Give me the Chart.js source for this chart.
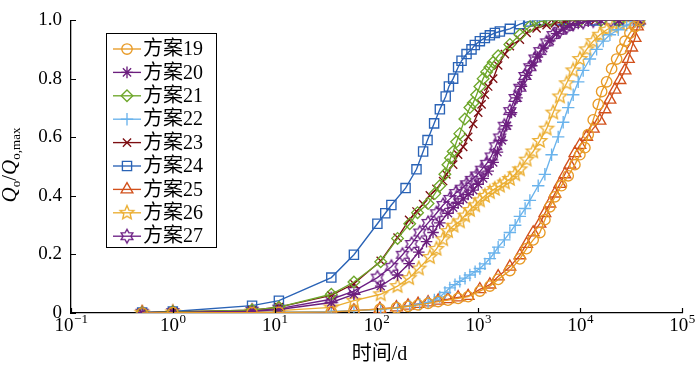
<!DOCTYPE html>
<html>
<head>
<meta charset="utf-8">
<script src="https://cdn.jsdelivr.net/npm/chart.js@4.4.0/dist/chart.umd.min.js"></script>
<style>
  html, body { margin: 0; padding: 0; background: #fff; }
  #wrap { width: 700px; height: 373px; }
</style>
</head>
<body>
<div id="wrap"><canvas id="chart" width="700" height="373"></canvas></div>
<script>
// --- Data (time in days, Qo/Qo,max) ---
const labels = ['方案19', '方案20', '方案21', '方案22', '方案23', '方案24', '方案25', '方案26', '方案27'];
const xPowers = [-1, 0, 1, 2, 3, 4, 5];
const yTicks = [0, 0.2, 0.4, 0.6, 0.8, 1.0];

const t19 = [0.5, 1, 6, 11, 36, 60, 108, 157, 204, 256, 321, 403, 503, 633, 794, 1035, 1298, 1566, 2040, 2558, 2978, 3456, 4020, 4503, 5040, 5645, 6550, 7630, 8877, 9935, 11129, 12000, 13430, 15050, 16250, 18200, 20370, 22810, 25540, 27550, 30810, 34570, 38000];
const v19 = [0, 0.001, 0.001, 0.002, 0.004, 0.008, 0.013, 0.018, 0.023, 0.028, 0.033, 0.039, 0.044, 0.05, 0.056, 0.075, 0.092, 0.115, 0.145, 0.185, 0.22, 0.25, 0.275, 0.319, 0.363, 0.397, 0.435, 0.469, 0.507, 0.541, 0.565, 0.61, 0.66, 0.713, 0.757, 0.79, 0.835, 0.868, 0.901, 0.929, 0.957, 0.979, 1.0];

const t20 = [0.5, 1, 6, 11, 36, 60, 110, 161, 209, 260, 310, 359, 418, 503, 566, 633, 710, 794, 890, 997, 1115, 1249, 1398, 1540, 1700, 1900, 2120, 2400, 2650, 2978, 3350, 3800, 4332, 5040, 5868, 6811, 7925, 9570, 12000, 16000, 24000, 38000];
const v20 = [0.001, 0.002, 0.006, 0.012, 0.036, 0.064, 0.092, 0.13, 0.169, 0.208, 0.244, 0.275, 0.308, 0.341, 0.36, 0.375, 0.39, 0.405, 0.42, 0.44, 0.46, 0.485, 0.515, 0.55, 0.59, 0.64, 0.685, 0.735, 0.775, 0.812, 0.845, 0.875, 0.905, 0.93, 0.955, 0.97, 0.982, 0.99, 0.997, 1, 1, 1];

const t21 = [0.5, 1, 6, 11, 36, 60, 110, 161, 212, 253, 321, 374, 418, 469, 503, 533, 566, 611, 658, 737, 826, 890, 961, 1035, 1115, 1205, 1298, 1398, 1566, 2040, 2558, 3207, 4020, 5040, 7000, 10000, 16000, 24000, 38000];
const v21 = [0.001, 0.004, 0.01, 0.02, 0.064, 0.106, 0.175, 0.255, 0.305, 0.343, 0.374, 0.408, 0.435, 0.474, 0.507, 0.53, 0.552, 0.585, 0.613, 0.663, 0.702, 0.718, 0.746, 0.774, 0.801, 0.824, 0.84, 0.857, 0.879, 0.918, 0.951, 0.979, 0.996, 1, 1, 1, 1, 1, 1];

const t22 = [0.5, 1, 6, 11, 36, 60, 110, 161, 212, 266, 321, 370, 418, 470, 525, 590, 658, 740, 826, 930, 1035, 1160, 1298, 1430, 1566, 1800, 2040, 2300, 2558, 2880, 3207, 3872, 4503, 5240, 6085, 6811, 7630, 8540, 9570, 10706, 12460, 14510, 16840, 19590, 23650, 28650, 34570, 38000];
const v22 = [0, 0.001, 0.002, 0.003, 0.005, 0.008, 0.012, 0.018, 0.024, 0.03, 0.036, 0.045, 0.055, 0.07, 0.086, 0.097, 0.108, 0.119, 0.13, 0.141, 0.152, 0.168, 0.186, 0.205, 0.225, 0.25, 0.275, 0.3, 0.33, 0.357, 0.385, 0.435, 0.474, 0.541, 0.602, 0.652, 0.702, 0.746, 0.79, 0.829, 0.868, 0.901, 0.929, 0.951, 0.968, 0.984, 0.996, 1];

const t23 = [0.5, 1, 6, 11, 36, 60, 110, 161, 209, 247, 287, 334, 388, 451, 485, 566, 633, 710, 794, 890, 997, 1076, 1159, 1249, 1398, 1566, 1822, 2040, 2558, 2978, 3734, 4680, 5645, 7000, 9000, 14000, 24000, 38000];
const v23 = [0.001, 0.004, 0.01, 0.02, 0.06, 0.1, 0.178, 0.258, 0.318, 0.347, 0.372, 0.402, 0.424, 0.451, 0.474, 0.507, 0.541, 0.568, 0.602, 0.646, 0.685, 0.713, 0.746, 0.774, 0.801, 0.846, 0.885, 0.912, 0.934, 0.957, 0.973, 0.984, 0.99, 0.996, 1, 1, 1, 1];

const t24 = [0.5, 1, 6, 11, 36, 60, 102, 122, 140, 193, 247, 287, 317, 368, 419, 478, 514, 566, 633, 684, 766, 857, 924, 1035, 1159, 1298, 1453, 1627, 2040, 2558, 3088, 3592, 4200, 4850, 6324, 8490, 14000, 24000, 38000];
const v24 = [0.002, 0.005, 0.025, 0.042, 0.121, 0.199, 0.305, 0.341, 0.369, 0.427, 0.491, 0.552, 0.591, 0.648, 0.696, 0.74, 0.774, 0.801, 0.84, 0.862, 0.885, 0.901, 0.916, 0.929, 0.94, 0.949, 0.957, 0.962, 0.971, 0.987, 0.996, 1, 1, 1, 1, 1, 1, 1, 1];

const t25 = [0.5, 1, 6, 11, 36, 60, 108, 157, 204, 256, 321, 403, 503, 633, 794, 1035, 1298, 1566, 2040, 2558, 2978, 3456, 4020, 4503, 5040, 5645, 6320, 7080, 7925, 8877, 9935, 11568, 13430, 15630, 17510, 19590, 21940, 24570, 27550, 29710, 32030, 34570, 36500, 38000];
const v25 = [0, 0, 0.001, 0.002, 0.003, 0.008, 0.014, 0.019, 0.025, 0.031, 0.036, 0.042, 0.047, 0.053, 0.058, 0.081, 0.097, 0.125, 0.158, 0.197, 0.236, 0.275, 0.305, 0.341, 0.374, 0.408, 0.441, 0.474, 0.507, 0.546, 0.574, 0.602, 0.63, 0.657, 0.696, 0.729, 0.763, 0.796, 0.829, 0.868, 0.907, 0.94, 0.979, 1];

const t26 = [0.5, 1, 6, 11, 36, 60, 110, 161, 209, 260, 334, 388, 451, 503, 570, 658, 740, 826, 930, 1035, 1160, 1298, 1450, 1627, 1820, 2040, 2300, 2558, 2978, 3456, 4020, 4680, 5431, 6320, 7358, 8540, 9935, 11568, 13430, 15630, 18200, 21110, 24570, 28650, 38000];
const v26 = [0.001, 0.002, 0.005, 0.008, 0.019, 0.042, 0.064, 0.092, 0.119, 0.152, 0.191, 0.219, 0.252, 0.28, 0.298, 0.313, 0.333, 0.352, 0.368, 0.385, 0.4, 0.413, 0.424, 0.435, 0.446, 0.458, 0.474, 0.491, 0.524, 0.552, 0.588, 0.63, 0.685, 0.74, 0.785, 0.829, 0.868, 0.901, 0.929, 0.951, 0.968, 0.979, 0.99, 0.996, 1];

const t27 = [0.5, 1, 6, 11, 36, 60, 102, 140, 180, 221, 266, 321, 388, 451, 525, 600, 684, 766, 857, 961, 1076, 1205, 1340, 1480, 1620, 1800, 2040, 2300, 2558, 2865, 3207, 3592, 4020, 4680, 5431, 6320, 7358, 8540, 10700, 13430, 20000, 38000];
const v27 = [0.001, 0.003, 0.008, 0.015, 0.047, 0.075, 0.121, 0.158, 0.199, 0.236, 0.275, 0.308, 0.341, 0.369, 0.39, 0.41, 0.425, 0.44, 0.455, 0.47, 0.49, 0.51, 0.535, 0.57, 0.6, 0.64, 0.69, 0.735, 0.77, 0.81, 0.84, 0.87, 0.895, 0.925, 0.95, 0.965, 0.978, 0.988, 0.995, 1, 1, 1];

// --- Styles ---
const SERIF = '"Liberation Serif", "Times New Roman", "Noto Sans CJK SC", serif';
const LW = 1.35;

function pts(ts, vs) {
    return ts.map((t, i) => ({ x: t, y: vs[i] }));
}

// outline star marker drawn into a small canvas (used for 5- and 6-pointed stars)
function makeStarImage(color, n, outerR, innerR) {
    const size = 18;
    const c = document.createElement('canvas');
    c.width = size; c.height = size;
    const g = c.getContext('2d');
    g.strokeStyle = color;
    g.lineWidth = LW;
    g.lineJoin = 'miter';
    g.beginPath();
    for (let i = 0; i < n * 2; i++) {
        const r = i % 2 === 0 ? outerR : innerR;
        const a = -Math.PI / 2 + i * Math.PI / n;
        const x = size / 2 + r * Math.cos(a);
        const y = size / 2 + r * Math.sin(a);
        if (i === 0) g.moveTo(x, y); else g.lineTo(x, y);
    }
    g.closePath();
    g.stroke();
    return c;
}

const colors = ['#E89A25', '#6C1F7E', '#6EA72B', '#6AB3EC', '#7D0E12', '#2A63B6', '#D2501B', '#EBAE32', '#6D2085'];
const styles = [
    { s: 'circle', r: 5.2 },
    { s: 'star', r: 5.8 },
    { s: 'rectRot', r: 5.8 },
    { s: 'cross', r: 6.2 },
    { s: 'crossRot', r: 5.8 },
    { s: 'rect', r: 6.5 },
    { s: 'triangle', r: 6.8 },
    { s: makeStarImage(colors[7], 5, 7.3, 3.3), r: 6 },
    { s: makeStarImage(colors[8], 6, 6.8, 3.9), r: 6 }
];
const series = [[t19, v19], [t20, v20], [t21, v21], [t22, v22], [t23, v23], [t24, v24], [t25, v25], [t26, v26], [t27, v27]];

const datasets = series.map((sv, i) => ({
    label: labels[i],
    data: pts(sv[0], sv[1]),
    borderColor: colors[i],
    backgroundColor: 'rgba(0,0,0,0)',
    borderWidth: LW,
    pointStyle: styles[i].s,
    pointRadius: styles[i].r,
    pointBorderColor: colors[i],
    pointBackgroundColor: 'rgba(0,0,0,0)',
    pointBorderWidth: LW,
    tension: 0,
    fill: false
}));

// --- Axes decoration, titles and legend ---
const decorPlugin = {
    id: 'decor',
    afterDraw(chart) {
        const ctx = chart.ctx;
        const xs = chart.scales.x;
        const ys = chart.scales.y;
        const area = chart.chartArea;
        ctx.save();

        // inward tick marks
        ctx.strokeStyle = '#000';
        ctx.lineWidth = 1.2;
        ctx.beginPath();
        xPowers.forEach(p => {
            const px = Math.round(xs.getPixelForValue(Math.pow(10, p))) + 0.5;
            ctx.moveTo(px, area.bottom);
            ctx.lineTo(px, area.bottom - 5);
        });
        yTicks.forEach(v => {
            const py = Math.round(ys.getPixelForValue(v)) + 0.5;
            ctx.moveTo(area.left, py);
            ctx.lineTo(area.left + 5, py);
        });
        ctx.stroke();

        // x tick labels: 10 with superscript exponent
        ctx.fillStyle = '#000';
        ctx.textBaseline = 'alphabetic';
        ctx.textAlign = 'left';
        xPowers.forEach(p => {
            const px = xs.getPixelForValue(Math.pow(10, p));
            const base = '10';
            const exp = p < 0 ? '\u2212' + Math.abs(p) : String(p);
            ctx.font = '19px ' + SERIF;
            const wb = ctx.measureText(base).width;
            ctx.font = '13px ' + SERIF;
            const we = ctx.measureText(exp).width;
            const x0 = px - (wb + we) / 2;
            ctx.font = '19px ' + SERIF;
            ctx.fillText(base, x0, 331);
            ctx.font = '13px ' + SERIF;
            ctx.fillText(exp, x0 + wb + 0.5, 323);
        });

        // x title
        ctx.font = '20px ' + SERIF;
        ctx.textAlign = 'center';
        ctx.textBaseline = 'middle';
        ctx.fillText('时间/d', (area.left + area.right) / 2 + 3, 355);

        // y title: Qo/Qo,max rotated
        const parts = [
            { t: 'Q', f: 'italic 21px ' + SERIF, dy: 0 },
            { t: 'o', f: '13px ' + SERIF, dy: 4 },
            { t: '/', f: '21px ' + SERIF, dy: 0 },
            { t: 'Q', f: 'italic 21px ' + SERIF, dy: 0 },
            { t: 'o,max', f: '13px ' + SERIF, dy: 4 }
        ];
        let total = 0;
        parts.forEach(pt => { ctx.font = pt.f; pt.w = ctx.measureText(pt.t).width; total += pt.w; });
        ctx.save();
        ctx.translate(16, 165);
        ctx.rotate(-Math.PI / 2);
        ctx.textAlign = 'left';
        ctx.textBaseline = 'alphabetic';
        let cx = -total / 2;
        parts.forEach(pt => {
            ctx.font = pt.f;
            ctx.fillText(pt.t, cx, pt.dy);
            cx += pt.w;
        });
        ctx.restore();

        // legend box
        const lx = 106.5, ly = 33.5, lw = 110, lh = 214;
        ctx.fillStyle = '#fff';
        ctx.fillRect(lx, ly, lw, lh);
        ctx.strokeStyle = '#000';
        ctx.lineWidth = 1;
        ctx.strokeRect(lx, ly, lw, lh);
        chart.data.datasets.forEach((ds, i) => {
            const y = 49 + i * 23.4;
            ctx.strokeStyle = ds.borderColor;
            ctx.lineWidth = LW;
            ctx.beginPath();
            ctx.moveTo(113, y);
            ctx.lineTo(141, y);
            ctx.stroke();
            ctx.fillStyle = 'rgba(0,0,0,0)';
            Chart.helpers.drawPoint(ctx, {
                pointStyle: ds.pointStyle,
                radius: ds.pointRadius,
                borderWidth: LW,
                rotation: 0
            }, 127, y);
            ctx.fillStyle = '#000';
            ctx.font = '20px ' + SERIF;
            ctx.textAlign = 'left';
            ctx.textBaseline = 'middle';
            ctx.fillText(ds.label, 143, y + 1);
        });

        ctx.restore();
    }
};

// --- Chart ---
new Chart(document.getElementById('chart'), {
    type: 'line',
    data: { datasets: datasets },
    options: {
        responsive: false,
        animation: false,
        events: [],
        layout: { padding: { top: 12, right: 18, bottom: 0, left: 0 } },
        plugins: { legend: { display: false }, tooltip: { enabled: false } },
        scales: {
            x: {
                type: 'logarithmic',
                min: 0.1,
                max: 100000,
                grid: { display: false, drawTicks: false },
                border: { display: true, color: '#000', width: 1.3 },
                ticks: { display: false },
                afterFit(scale) { scale.height = 60; }
            },
            y: {
                type: 'linear',
                min: 0,
                max: 1,
                grid: { display: false, drawTicks: false },
                border: { display: true, color: '#000', width: 1.3 },
                ticks: {
                    stepSize: 0.2,
                    padding: 9,
                    color: '#000',
                    font: { family: SERIF, size: 19 },
                    callback: v => (Math.abs(v) < 1e-9 ? '0' : v.toFixed(1))
                },
                afterFit(scale) { scale.width = 71; }
            }
        }
    },
    plugins: [decorPlugin]
});
</script>
</body>
</html>
